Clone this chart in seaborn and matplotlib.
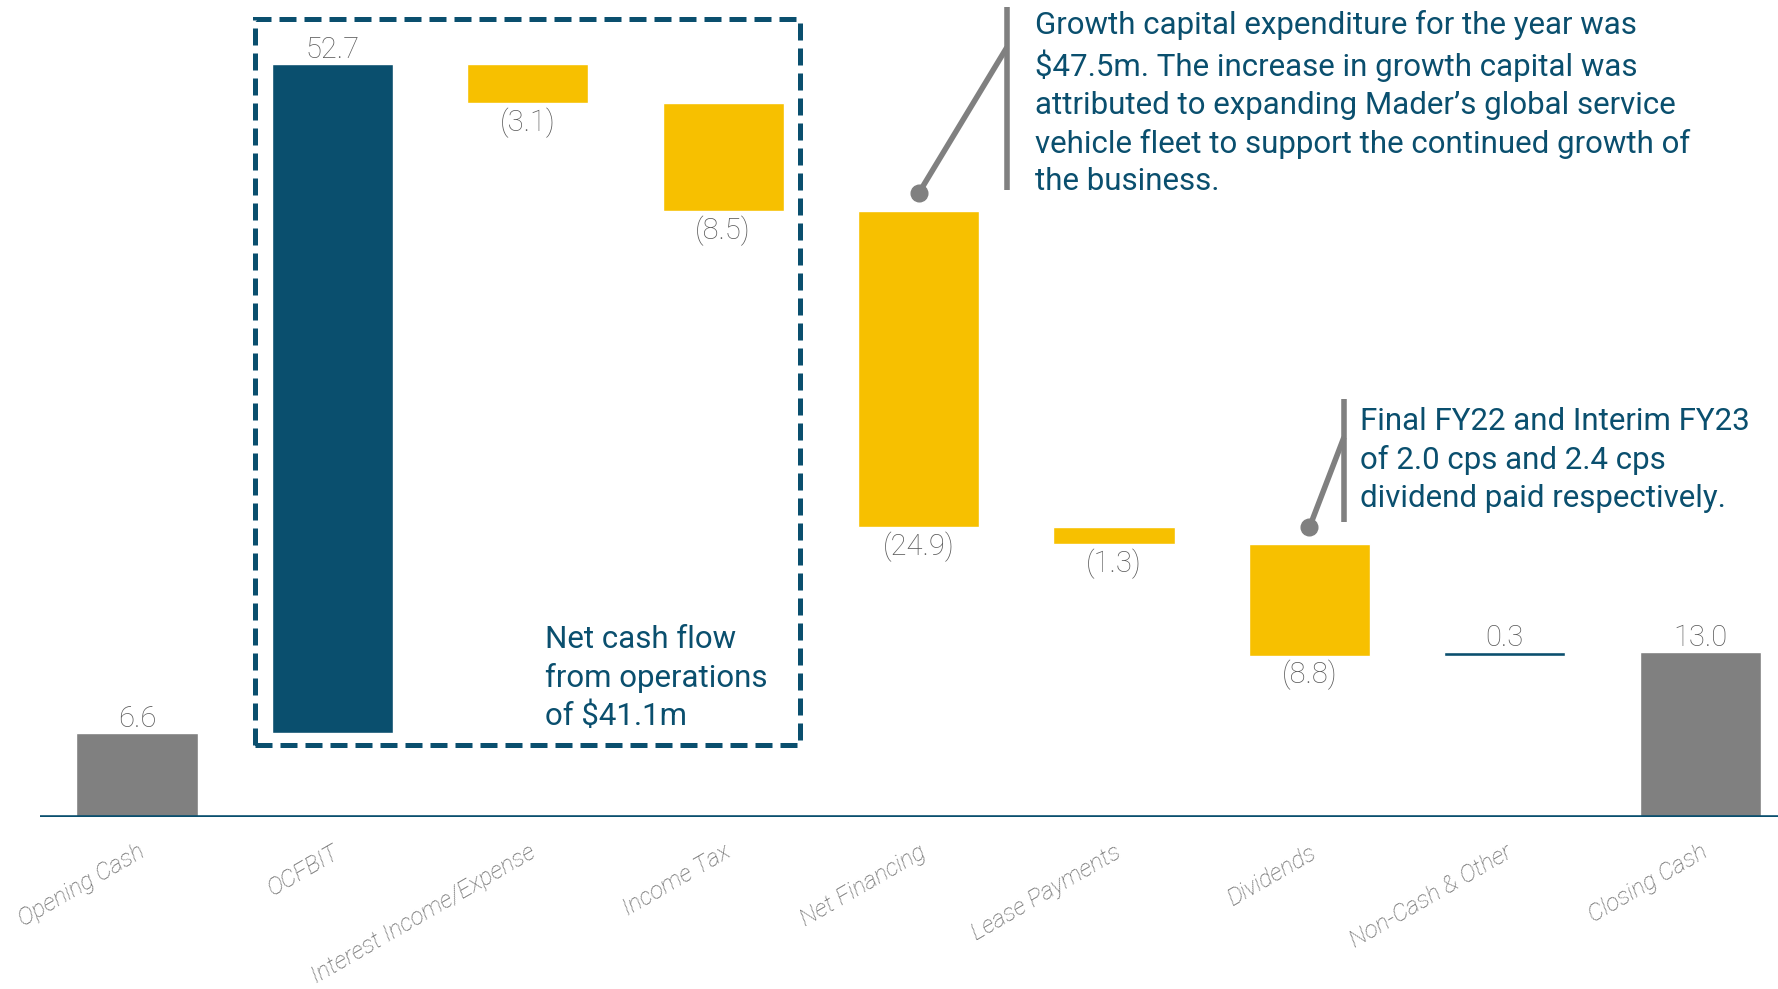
import matplotlib
matplotlib.use("Agg")
import matplotlib.pyplot as plt
from matplotlib.patches import Rectangle
import seaborn as sns
import pandas as pd
import numpy as np

# ---- data ----
categories = ["Opening Cash", "OCFBIT", "Interest Income/Expense", "Income Tax",
              "Net Financing", "Lease Payments", "Dividends", "Non-Cash & Other",
              "Closing Cash"]
changes = [6.6, 52.7, -3.1, -8.5, -24.9, -1.3, -8.8, 0.3, 13.0]
kinds = ["total", "ocf", "neg", "neg", "neg", "neg", "neg", "other", "total"]
value_labels = ["6.6", "52.7", "(3.1)", "(8.5)", "(24.9)", "(1.3)", "(8.8)", "0.3", "13.0"]

box_text = "Net cash flow\nfrom operations\nof $41.1m"
capex_text = ("Growth capital expenditure for the year was\n"
              "$47.5m. The increase in growth capital was\n"
              "attributed to expanding Mader\u2019s global service\n"
              "vehicle fleet to support the continued growth of\n"
              "the business.")
div_text = ("Final FY22 and Interim FY23\n"
            "of 2.0 cps and 2.4 cps\n"
            "dividend paid respectively.")

# ---- colours ----
DARK = "#0A4F6E"
YELLOW = "#F7C000"
GREY = "#808080"
LABEL_GREY = "#5A5A5A"
kind_colors = {"total": GREY, "ocf": DARK, "neg": YELLOW, "other": DARK}

# ---- waterfall geometry ----
bottoms, heights = [], []
running = 0.0
for k, c in zip(kinds, changes):
    if k == "total":
        bottoms.append(0.0)
        heights.append(c)
        running = c
    else:
        if c >= 0:
            bottoms.append(running)
            heights.append(c)
        else:
            bottoms.append(running + c)
            heights.append(-c)
        running += c
tops = [b + h for b, h in zip(bottoms, heights)]

df = pd.DataFrame({"category": categories, "height": heights, "bottom": bottoms})
palette = {cat: kind_colors[k] for cat, k in zip(categories, kinds)}

sns.set_theme(style="white")
plt.rcParams["font.family"] = ["Roboto", "DejaVu Sans"]

fig = plt.figure(figsize=(17.78, 9.89), dpi=100)
ax = fig.add_axes([40 / 1778, (989 - 817) / 989, 1 - 40 / 1778, 817 / 989])

sns.barplot(data=df, x="category", y="height", hue="category", palette=palette,
            order=categories, hue_order=categories, legend=False, width=0.62,
            saturation=1, ax=ax, dodge=False)

# lift each bar onto its waterfall base
for p in ax.patches:
    idx = int(round(p.get_x() + p.get_width() / 2))
    if 0 <= idx < len(bottoms) and p.get_height() > 0:
        p.set_y(bottoms[idx])

ax.set_xlim(-0.496, 8.398)
ax.set_ylim(0, 64.33)
for s in ax.spines.values():
    s.set_visible(False)
ax.axhline(0, color=DARK, lw=2.6, zorder=5)
ax.set_yticks([])
ax.set_ylabel("")
ax.set_xlabel("")
ax.tick_params(axis="x", length=0, pad=17)
ax.set_xticks(range(len(categories)))
ax.set_xticklabels(categories, rotation=30, ha="right", rotation_mode="anchor",
                   fontsize=17.5, color="#666666", fontstyle="italic", fontweight="light")

# value labels
for i, (k, c) in enumerate(zip(kinds, changes)):
    if c >= 0:
        ax.annotate(value_labels[i], (i, tops[i]), xytext=(0, 0), textcoords="offset points",
                    ha="center", va="bottom", fontsize=21, color=LABEL_GREY, fontweight="light")
    else:
        ax.annotate(value_labels[i], (i, bottoms[i]), xytext=(0, -3), textcoords="offset points",
                    ha="center", va="top", fontsize=21, color=LABEL_GREY, fontweight="light")

# dashed box around operating cash flow
rect = Rectangle((0.604, 5.67), 3.393 - 0.604, 62.8 - 5.67, fill=False, edgecolor=DARK,
                 lw=3.6, linestyle=(0, (3.4, 1.6)), zorder=6)
ax.add_patch(rect)
ax.text(2.088, 15.1, box_text, ha="left", va="top", fontsize=22.5, color=DARK,
        linespacing=1.37)

# capex callout
ax.plot([4.452, 4.452], [63.8, 49.4], color=GREY, lw=4, solid_capstyle="butt")
ax.plot([4.452, 4.0], [60.6, 49.1], color=GREY, lw=4, solid_capstyle="butt")
ax.plot([4.0], [49.1], "o", color=GREY, markersize=12)
ax.text(4.596, 63.55, capex_text, ha="left", va="top", fontsize=22.5, color=DARK,
        linespacing=1.37)

# dividend callout
ax.plot([6.177, 6.177], [32.9, 23.2], color=GREY, lw=4, solid_capstyle="butt")
ax.plot([6.177, 6.0], [29.9, 22.8], color=GREY, lw=4, solid_capstyle="butt")
ax.plot([6.0], [22.8], "o", color=GREY, markersize=12)
ax.text(6.26, 32.27, div_text, ha="left", va="top", fontsize=22.5, color=DARK,
        linespacing=1.37)

fig.savefig("out.png", dpi=100)
